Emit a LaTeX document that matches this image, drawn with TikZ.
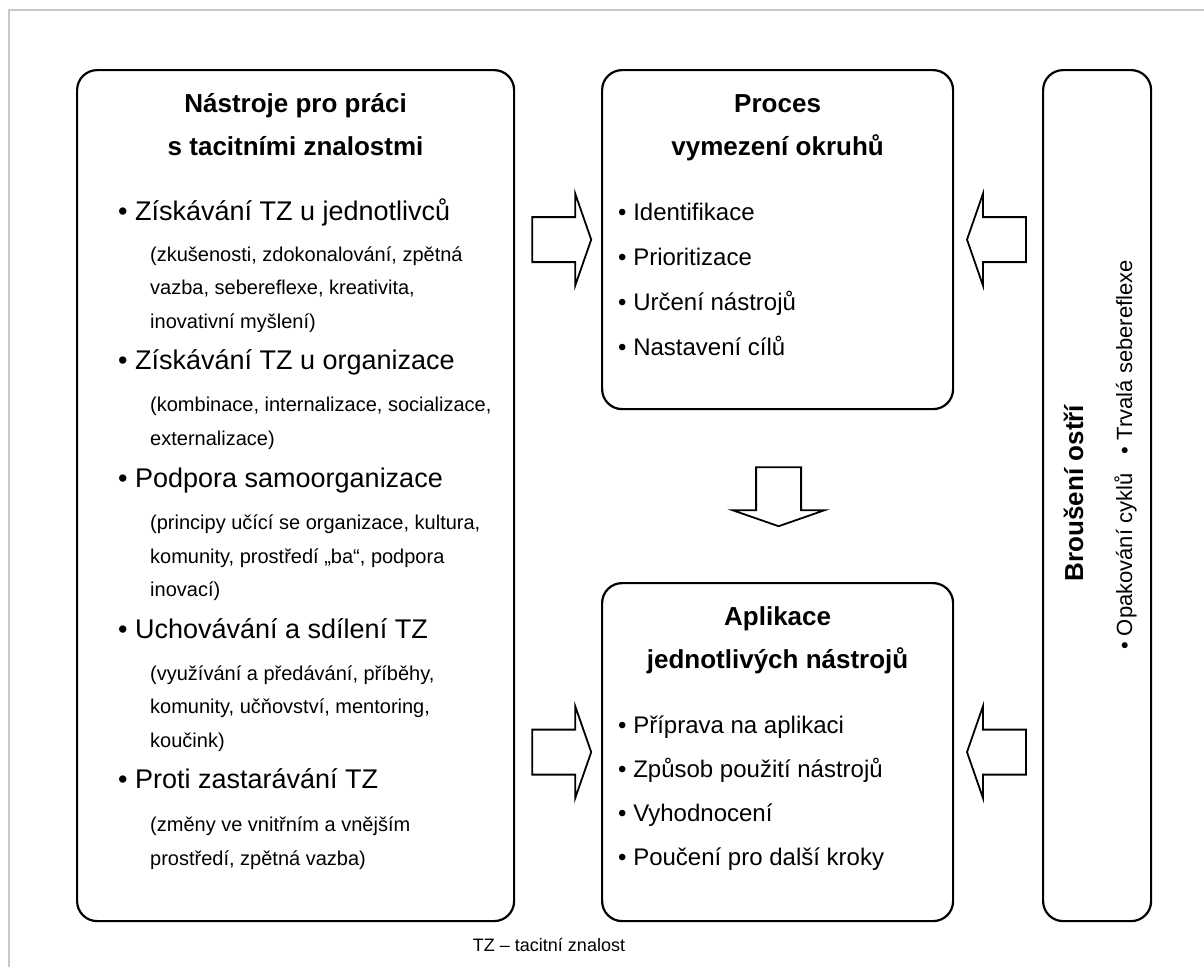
\documentclass[tikz,border=0pt]{standalone}
\usepackage{fontspec}
\setmainfont{Liberation Sans}
\usetikzlibrary{positioning,calc}

\tikzset{
  panel/.style={draw, line width=2.2pt, rounded corners=20pt, anchor=north west, inner sep=0pt},
  heading/.style={font=\fontsize{26pt}{30pt}\selectfont\bfseries, anchor=base, inner sep=0pt},
  bigitem/.style={font=\fontsize{27pt}{32pt}\selectfont, anchor=base west, inner sep=0pt},
  item/.style={font=\fontsize{24pt}{28pt}\selectfont, anchor=base west, inner sep=0pt},
  subitem/.style={font=\fontsize{20pt}{24pt}\selectfont, anchor=base west, inner sep=0pt},
  pics/fatarrow/.style={code={
    \draw[line width=1.8pt] (0,-22.5) -- (43,-22.5) -- (43,-46) -- (59,0)
      -- (43,46) -- (43,22.5) -- (0,22.5) -- cycle;
  }}
}

\begin{document}
\begin{tikzpicture}[x=1pt,y=-1pt]
  \useasboundingbox (0,0) rectangle (1204,967);
  % frame
  \draw[black!22, line width=2pt] (9,967) -- (9,10) -- (1204,10);

  % boxes
  \node[panel, minimum width=437pt, minimum height=851pt] (tools) at (76,69) {};
  \node[panel, minimum width=351pt, minimum height=339pt] (proc) at (601,69) {};
  \node[panel, minimum width=351pt, minimum height=338pt] (apply) at (601,582) {};
  \node[panel, minimum width=108pt, minimum height=851pt] (hone) at (1042,69) {};

  % left box
  \node[heading] (t1) at (tools.north |- 0,112) {Nástroje pro práci};
  \node[heading] (t2) at (tools.north |- 0,155) {s tacitními znalostmi};
  \foreach \y/\t [count=\i] in {220/{• Získávání TZ u jednotlivců},
      369/{• Získávání TZ u organizace},
      487/{• Podpora samoorganizace},
      638/{• Uchovávání a sdílení TZ},
      788/{• Proti zastarávání TZ}}
    \node[bigitem] (b\i) at (118,\y) {\t};
  \foreach \y/\t [count=\i] in {261/{(zkušenosti, zdokonalování, zpětná},
      294/{vazba, sebereflexe, kreativita,},
      328/{inovativní myšlení)},
      411/{(kombinace, internalizace, socializace,},
      445/{externalizace)},
      529/{(principy učící se organizace, kultura,},
      563/{komunity, prostředí „ba“, podpora},
      596/{inovací)},
      680/{(využívání a předávání, příběhy,},
      713/{komunity, učňovství, mentoring,},
      747/{koučink)},
      831/{(změny ve vnitřním a vnějším},
      865/{prostředí, zpětná vazba)}}
    \node[subitem] (s\i) at (150,\y) {\t};

  % process box
  \node[heading] (p1) at (proc.north |- 0,112) {Proces};
  \node[heading] (p2) at (proc.north |- 0,155) {vymezení okruhů};
  \foreach \y/\t [count=\i] in {220/Identifikace, 265/Prioritizace,
      310/Určení nástrojů, 355/Nastavení cílů}
    \node[item] (pi\i) at (618,\y) {• \t};

  % application box
  \node[heading] (a1) at (apply.north |- 0,625) {Aplikace};
  \node[heading] (a2) at (apply.north |- 0,668) {jednotlivých nástrojů};
  \foreach \y/\t [count=\i] in {733/Příprava na aplikaci, 777/Způsob použití nástrojů,
      821/Vyhodnocení, 865/Poučení pro další kroky}
    \node[item] (ai\i) at (618,\y) {• \t};

  % right box
  \node[heading, rotate=90] (h1) at (1083,493) {Broušení ostří};
  \node[font=\fontsize{22pt}{26pt}\selectfont, anchor=base, inner sep=0pt, rotate=90] (h2)
    at (1132,455) {• Opakování cyklů\hspace{0.6em} • Trvalá sebereflexe};

  % arrows
  \pic at ($(tools.east |- proc.west)+(17,0)$) {fatarrow};
  \pic at ($(tools.east |- apply.west)+(17,0)$) {fatarrow};
  \pic[rotate=180] at ($(hone.west |- proc.east)+(-16,0)$) {fatarrow};
  \pic[rotate=180] at ($(hone.west |- apply.east)+(-16,0)$) {fatarrow};
  \pic[rotate=-90] at ($(proc.south)+(1,57)$) {fatarrow};

  \node[font=\fontsize{18pt}{22pt}\selectfont, anchor=base, inner sep=0pt] (note)
    at (549,951) {TZ – tacitní znalost};
\end{tikzpicture}
\end{document}
